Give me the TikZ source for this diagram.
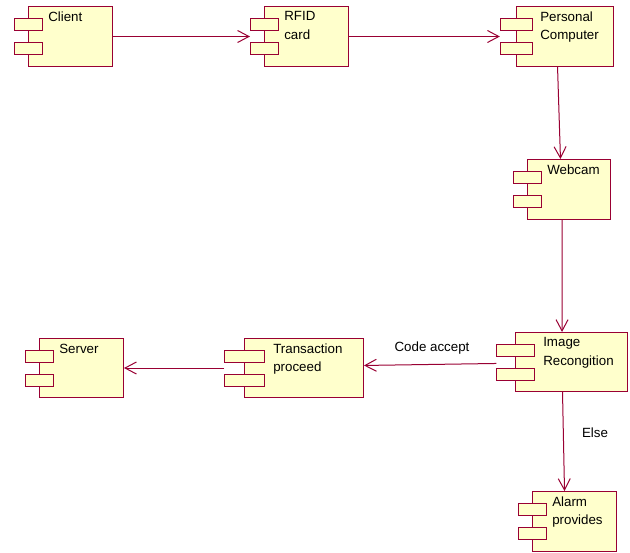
\documentclass[tikz,border=0pt]{standalone}
\usepackage{fontspec}
\setmainfont{Liberation Sans}
\usetikzlibrary{arrows.meta}
\definecolor{crim}{RGB}{153,0,51}
\definecolor{compfill}{RGB}{255,255,204}
\tikzset{
  compbox/.style={draw=crim, fill=compfill, line width=0.75pt, inner sep=0pt, anchor=north west},
  tabbox/.style={draw=crim, fill=compfill, line width=0.75pt, inner sep=0pt, anchor=north west, minimum height=9pt},
  complabel/.style={anchor=north west, inner sep=0pt, align=left, font=\fontsize{10pt}{13.8pt}\selectfont},
  flow/.style={draw=crim, line width=0.75pt, -{Straight Barb[length=8.5pt,width=9pt,line width=0.75pt]}},
  flowlabel/.style={inner sep=0pt, font=\fontsize{10pt}{12pt}\selectfont}
}
% #1 name, #2 x, #3 y (top left, px), #4 width, #5 height, #6 text x offset, #7 text
\newcommand\umlcomp[7]{%
  \node[compbox, minimum width=#4*0.75pt, minimum height=#5*0.75pt] (#1) at (#2,#3) {};
  \node[tabbox, minimum width=#4*0.25pt] (#1-t1) at ({#2-#4/6},{#3+12}) {};
  \node[tabbox, minimum width=#4*0.25pt] (#1-t2) at ({#2-#4/6},{#3+36}) {};
  \node[complabel] (#1-text) at ({#2+#6},{#3+5.5}) {#7};
}
\begin{document}
\begin{tikzpicture}[x=0.75pt,y=-0.75pt]
\useasboundingbox (0,0) rectangle (630,552);
\umlcomp{client}{28}{6}{84}{60}{20}{Client}
\umlcomp{rfid}{264}{6}{84}{60}{20}{RFID\\card}
\umlcomp{pc}{516}{6}{97}{60}{24}{Personal\\Computer}
\umlcomp{webcam}{527}{159}{83}{60}{20}{Webcam}
\umlcomp{image}{515}{332}{112}{59}{28}{Image\\Recongition}
\umlcomp{trans}{244}{338}{119}{59}{29}{Transaction\\proceed}
\umlcomp{server}{39}{338}{84}{59}{20}{Server}
\umlcomp{alarm}{532}{491}{84}{60}{20}{Alarm\\provides}

\draw[flow] (client.east) -- ([xshift=-10.5pt]rfid.west);
\draw[flow] (rfid.east) -- ([xshift=-12.1pt]pc.west);
\draw[flow] ([xshift=-5.6pt]pc.south) -- ([xshift=-6.4pt]webcam.north);
\draw[flow] ([xshift=-5.25pt]webcam.south) -- ([xshift=-7.1pt]image.north);
\draw[flow] ([xshift=-14pt,yshift=-1.1pt]image.west) -- ([yshift=1.9pt]trans.east);
\draw[flow] ([xshift=-14.9pt]trans.west) -- (server.east);
\draw[flow] ([xshift=-6.75pt]image.south) -- ([xshift=-7.5pt]alarm.north);

\node[flowlabel] (lblaccept) at (432,348.5) {Code accept};
\node[flowlabel] (lblelse) at (595,432.5) {Else};
\end{tikzpicture}
\end{document}
